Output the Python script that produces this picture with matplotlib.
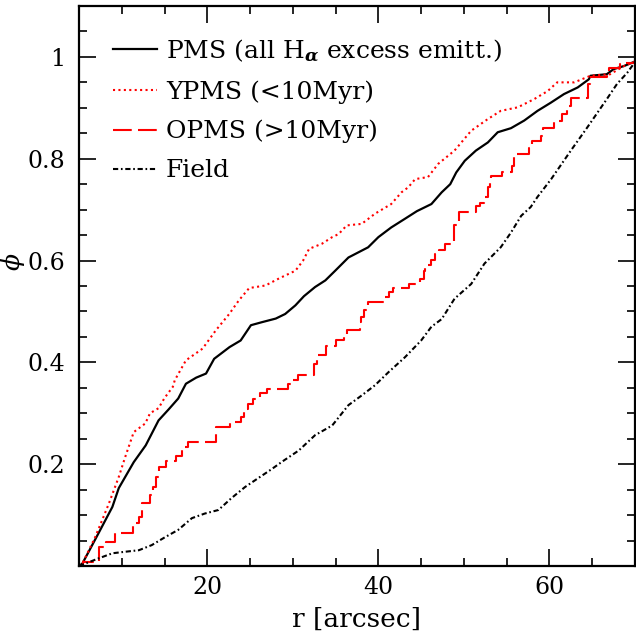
import matplotlib
matplotlib.use("Agg")
import matplotlib.pyplot as plt
from matplotlib.ticker import MultipleLocator, FixedLocator, FuncFormatter

# cumulative radial distributions
r_pms = [5.0, 5.4, 7.3, 8.9, 9.65, 11.4, 12.8, 14.3, 15.5, 16.6, 17.5, 18.7, 19.85,
         20.8, 22.6, 23.9, 25.1, 26.4, 28.0, 29.1, 30.3, 31.3, 32.6, 33.8, 34.95,
         36.5, 38.8, 40.0, 41.5, 43.1, 44.5, 46.2, 47.4, 48.4, 49.1, 50.1, 51.4,
         52.8, 53.95, 55.5, 57.05, 58.6, 60.15, 61.7, 63.3, 64.6, 64.8, 66.7, 67.5,
         68.7, 70.0]
phi_pms = [0.0, 0.005, 0.065, 0.116, 0.153, 0.204, 0.237, 0.286, 0.308, 0.329, 0.358,
           0.370, 0.378, 0.407, 0.430, 0.443, 0.473, 0.479, 0.486, 0.495, 0.512, 0.530,
           0.548, 0.561, 0.580, 0.606, 0.626, 0.646, 0.665, 0.682, 0.697, 0.711, 0.734,
           0.750, 0.773, 0.796, 0.816, 0.832, 0.852, 0.860, 0.875, 0.894, 0.910, 0.927,
           0.940, 0.956, 0.963, 0.966, 0.976, 0.982, 0.991]

r_young = [5.0, 5.4, 6.9, 8.5, 9.65, 10.4, 11.4, 12.75, 13.3, 14.3, 15.0, 15.97, 16.2,
           17.5, 19.45, 21.0, 22.56, 23.7, 24.9, 26.8, 28.4, 30.3, 31.2, 31.9, 33.4,
           34.6, 35.35, 36.3, 38.05, 39.6, 41.5, 42.7, 43.5, 44.3, 45.8, 47.0, 48.9,
           50.85, 52.8, 54.3, 56.3, 58.2, 59.8, 60.9, 62.9, 64.8, 67.1, 68.7, 70.0]
phi_young = [0.0, 0.005, 0.057, 0.123, 0.175, 0.214, 0.263, 0.280, 0.300, 0.310, 0.330,
             0.352, 0.365, 0.404, 0.427, 0.463, 0.495, 0.522, 0.546, 0.551, 0.565, 0.580,
             0.600, 0.623, 0.633, 0.646, 0.652, 0.669, 0.672, 0.692, 0.711, 0.734, 0.744,
             0.760, 0.764, 0.790, 0.816, 0.855, 0.878, 0.894, 0.901, 0.917, 0.933, 0.950,
             0.950, 0.963, 0.966, 0.982, 0.991]

r_old = [5.0, 5.5, 7.3, 8.1, 9.2, 11.3, 12.0, 12.4, 13.3, 13.6, 14.0, 14.3, 15.2, 16.3,
         17.0, 17.3, 17.7, 21.0, 22.6, 23.9, 24.3, 24.7, 25.4, 26.2, 27.0, 29.4, 30.0,
         30.6, 32.5, 32.8, 33.9, 35.1, 36.0, 36.3, 37.8, 38.0, 38.3, 38.8, 40.6, 41.2,
         41.7, 43.6, 44.9, 45.3, 45.5, 46.1, 46.6, 47.1, 47.8, 48.5, 48.8, 49.4, 51.4,
         51.9, 52.3, 52.8, 53.0, 53.2, 54.4, 55.6, 55.9, 57.6, 58.0, 59.0, 59.3, 60.5,
         61.5, 62.0, 62.5, 64.5, 64.7, 66.7, 67.0, 68.2, 69.0, 70.0]
phi_old = [0.0, 0.008, 0.038, 0.048, 0.064, 0.084, 0.097, 0.123, 0.139, 0.155, 0.175,
           0.195, 0.207, 0.216, 0.227, 0.234, 0.244, 0.273, 0.283, 0.293, 0.309, 0.319,
           0.329, 0.339, 0.348, 0.357, 0.365, 0.376, 0.397, 0.414, 0.433, 0.443, 0.456,
           0.463, 0.479, 0.489, 0.502, 0.518, 0.529, 0.538, 0.546, 0.554, 0.564, 0.580,
           0.592, 0.601, 0.613, 0.621, 0.633, 0.639, 0.669, 0.695, 0.708, 0.714, 0.724,
           0.744, 0.757, 0.767, 0.773, 0.786, 0.809, 0.822, 0.835, 0.845, 0.861, 0.875,
           0.888, 0.904, 0.920, 0.947, 0.960, 0.969, 0.979, 0.986, 0.989, 0.992]

r_field = [5.0, 7.3, 8.9, 10.4, 12.0, 13.5, 15.1, 16.6, 18.2, 19.7, 21.3, 22.8, 24.4,
           25.9, 27.5, 28.75, 30.7, 32.6, 34.6, 36.5, 38.05, 39.6, 41.2, 43.1, 45.0,
           46.2, 47.4, 48.9, 50.85, 52.4, 54.3, 55.5, 56.7, 57.8, 58.6, 60.2, 62.5,
           64.4, 66.7, 67.9, 69.1, 70.0]
phi_field = [0.0, 0.015, 0.025, 0.028, 0.031, 0.041, 0.057, 0.071, 0.094, 0.103, 0.110,
             0.133, 0.155, 0.172, 0.190, 0.205, 0.227, 0.257, 0.276, 0.316, 0.335, 0.355,
             0.381, 0.410, 0.443, 0.470, 0.485, 0.525, 0.554, 0.594, 0.626, 0.655, 0.688,
             0.705, 0.725, 0.760, 0.816, 0.861, 0.917, 0.947, 0.969, 0.990]

plt.rcParams["font.family"] = "DejaVu Serif"
plt.rcParams["mathtext.fontset"] = "dejavuserif"

fig = plt.figure(figsize=(6.36, 6.36), dpi=100)
ax = fig.add_axes([79 / 636, 70 / 636, 556 / 636, 560 / 636])

ax.plot(r_pms, phi_pms, color="black", lw=1.6,
        label=r"PMS (all H$_{\boldsymbol{\alpha}}$ excess emitt.)")
ax.plot(r_young, phi_young, color="red", lw=1.5, linestyle=(0, (1, 1.6)),
        label="YPMS (<10Myr)")
ax.step(r_old, phi_old, where="post", color="red", lw=1.5, linestyle=(0, (9, 3)),
        label="OPMS (>10Myr)")
ax.plot(r_field, phi_field, color="black", lw=1.5, linestyle=(0, (2.5, 1.3, 0.8, 1.3)),
        label="Field")

ax.set_xlim(5, 70)
ax.set_ylim(0, 1.1)
ax.xaxis.set_major_locator(FixedLocator([20, 40, 60]))
ax.xaxis.set_minor_locator(MultipleLocator(5))
ax.yaxis.set_major_locator(FixedLocator([0.2, 0.4, 0.6, 0.8, 1.0]))
ax.yaxis.set_minor_locator(MultipleLocator(0.05))
ax.yaxis.set_major_formatter(FuncFormatter(lambda v, p: f"{v:g}"))
ax.tick_params(which="both", direction="in", top=True, right=True, width=1.2,
               labelsize=17)
ax.tick_params(axis="y", pad=10)
ax.tick_params(axis="x", pad=7)
ax.tick_params(which="major", length=12)
ax.tick_params(which="minor", length=5.5)
for s in ax.spines.values():
    s.set_linewidth(1.6)

ax.set_xlabel("r [arcsec]", fontsize=19, labelpad=6)
ax.set_ylabel(r"$\phi$", fontsize=18)
ax.yaxis.set_label_coords(-0.094, 0.543)

ax.legend(loc="upper left", bbox_to_anchor=(0.061, 0.944), frameon=False,
          fontsize=18, handlelength=1.76, handletextpad=0.36, labelspacing=0.64,
          borderaxespad=0, borderpad=0)

fig.savefig("out.png", dpi=100)
